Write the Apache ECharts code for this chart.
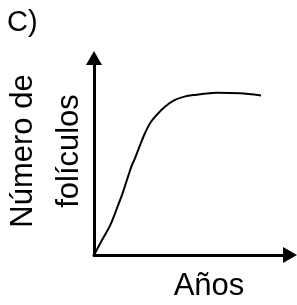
<!DOCTYPE html>
<html>
<head>
<meta charset="utf-8">
<script src="https://cdn.jsdelivr.net/npm/echarts@6/dist/echarts.min.js"></script>
<style>
    html, body {margin: 0; padding: 0; background: #fff;}
    #chart {width: 297px; height: 305px;}
</style>
</head>
<body>
<div id="chart"></div>
<script>
let years = [0, 4.1, 8.3, 11.7, 14.3, 16.8, 19.4, 20.9, 23.5, 26.0, 28.6, 32.0, 36.2, 41.3, 46.1, 50.7, 62.6, 74.5, 85.2]
let follicles = [0, 7.6, 15.2, 23.7, 30.5, 38.1, 45.7, 49.1, 55.8, 61.8, 66.9, 71.1, 75.3, 78.7, 80.4, 81.2, 82.4, 82.1, 81.0]
let panelLabel = 'C)'
let xName = 'Años'
let yName = 'Número de\nfolículos'

let font = '"Liberation Sans", Arial, sans-serif'
let myChart = echarts.init(document.getElementById('chart'), null, {renderer: 'canvas'})

let points = years.map((x, i) => [x, follicles[i]])

let axisBase = {
    type: 'value',
    min: 0,
    max: 100,
    axisLabel: {show: false},
    axisTick: {show: false},
    splitLine: {show: false},
    axisLine: {
        show: true,
        symbol: ['none', 'triangle'],
        symbolSize: [16, 14],
        lineStyle: {color: '#000', width: 3}
    }
}

myChart.setOption({
    animation: false,
    grid: {left: 94, right: 7, top: 58, bottom: 50},
    xAxis: axisBase,
    yAxis: axisBase,
    series: [{
        type: 'line',
        data: points,
        smooth: 0.3,
        showSymbol: false,
        lineStyle: {color: '#000', width: 2}
    }],
    graphic: [
        {
            type: 'text', x: 7, y: 23,
            style: {text: panelLabel, fontSize: 29, fontFamily: font, fill: '#000', verticalAlign: 'middle'}
        },
        {
            type: 'text', x: 209, y: 286,
            style: {text: xName, fontSize: 31, fontFamily: font, fill: '#000', align: 'center', verticalAlign: 'middle'}
        },
        {
            type: 'text', x: 46, y: 151, rotation: Math.PI / 2,
            style: {text: yName, fontSize: 31, fontFamily: font, fill: '#000', align: 'center', verticalAlign: 'middle', lineHeight: 46}
        }
    ]
})
</script>
</body>
</html>
